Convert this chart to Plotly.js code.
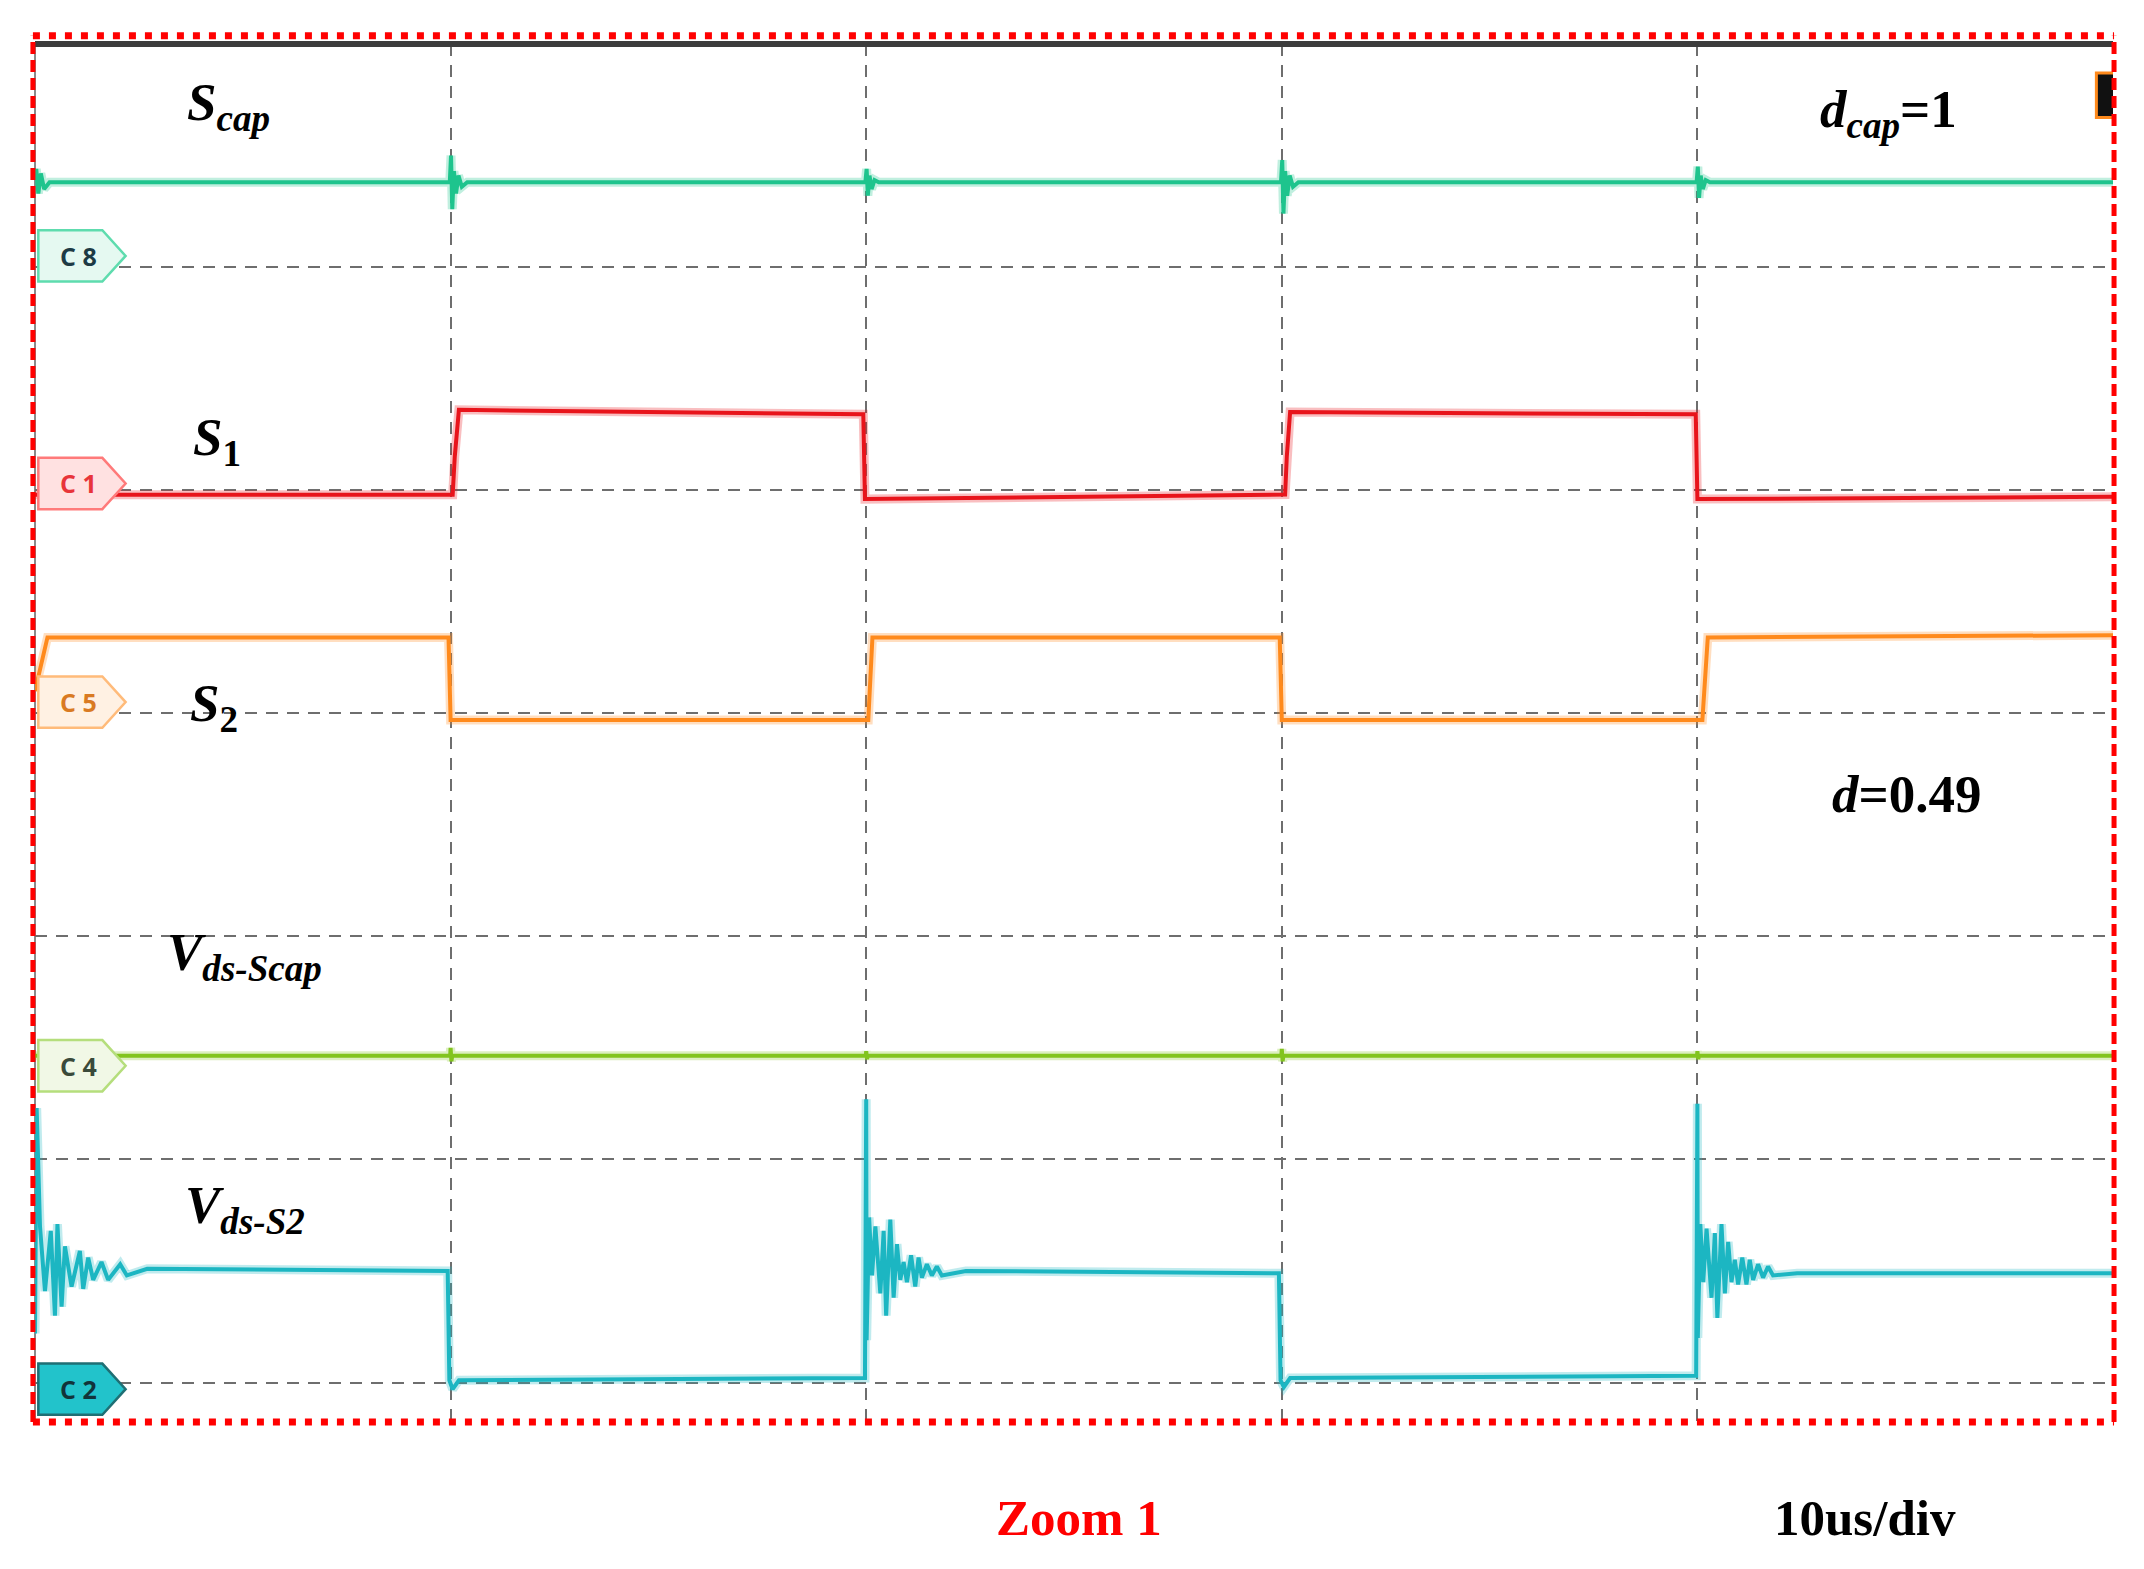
<!DOCTYPE html>
<html>
<head>
<meta charset="utf-8">
<script src="https://cdn.plot.ly/plotly-3.0.1.min.js"></script>
<style>
  html, body { margin: 0; padding: 0; background: #fff; }
  #scope { width: 2144px; height: 1569px; }
</style>
</head>
<body>
<div id="scope"></div>
<script>
// time in us, levels in screen divisions (0 = top of the graticule, negative downwards)

// C8 - Scap gate signal
const scapT = [0, 0.03, 0.08, 0.14, 0.22, 0.35, 9.98, 10.01, 10.04, 10.08, 10.13, 10.19, 10.27, 10.4,
  19.98, 20.01, 20.04, 20.08, 20.13, 20.2, 20.3, 29.98, 30.01, 30.04, 30.08, 30.13, 30.19, 30.27, 30.4,
  39.98, 40.01, 40.04, 40.08, 40.13, 40.2, 40.3, 50];
const scapV = [-0.6, -0.56, -0.67, -0.58, -0.65, -0.62, -0.62, -0.5, -0.74, -0.57, -0.67, -0.59, -0.64, -0.62,
  -0.62, -0.56, -0.68, -0.59, -0.65, -0.61, -0.62, -0.62, -0.52, -0.76, -0.57, -0.68, -0.59, -0.64, -0.62,
  -0.62, -0.55, -0.69, -0.59, -0.65, -0.61, -0.62, -0.62];

// C1 - S1 gate signal
const s1T = [0, 10.05, 10.1, 10.2, 19.93, 19.97, 30.08, 30.12, 30.2, 39.96, 40.0, 50];
const s1V = [-2.02, -2.02, -1.85, -1.64, -1.66, -2.04, -2.02, -1.85, -1.65, -1.66, -2.04, -2.03];

// C5 - S2 gate signal
const s2T = [0, 0.3, 9.95, 10.0, 20.05, 20.15, 29.95, 30.0, 40.12, 40.25, 50];
const s2V = [-2.9, -2.66, -2.66, -3.03, -3.03, -2.66, -2.66, -3.03, -3.03, -2.66, -2.65];

// C4 - Vds of Scap
const vcapT = [0, 9.99, 10.0, 10.02, 10.04, 19.99, 20.0, 20.02, 20.04, 29.99, 30.0, 30.02, 30.04, 39.99, 40.0, 40.02, 40.04, 50];
const vcapV = [-4.535, -4.535, -4.5, -4.56, -4.535, -4.535, -4.515, -4.55, -4.535, -4.535, -4.505, -4.56, -4.535,
  -4.535, -4.515, -4.55, -4.535, -4.535];

// C2 - Vds of S2
const vs2T = [0, 0.04, 0.12, 0.24, 0.38, 0.48, 0.54, 0.64, 0.72, 0.88, 1.08, 1.16, 1.28, 1.4, 1.6, 1.76, 2.05, 2.21, 2.7,
  9.93, 9.97, 10.05, 10.2,
  19.97, 20.0, 20.01, 20.07, 20.14, 20.22, 20.34, 20.42, 20.48, 20.58, 20.66, 20.74, 20.82, 20.9, 20.98, 21.08, 21.18, 21.26, 21.34, 21.46, 21.58, 21.7, 21.82, 22.4,
  29.93, 29.97, 30.05, 30.2,
  39.97, 40.0, 40.01, 40.07, 40.14, 40.22, 40.34, 40.42, 40.48, 40.58, 40.66, 40.74, 40.82, 40.9, 40.98, 41.08, 41.18, 41.26, 41.34, 41.46, 41.58, 41.7, 41.82, 42.4, 50];
const vs2V = [-5.78, -4.77, -5.3, -5.59, -5.32, -5.7, -5.29, -5.66, -5.39, -5.57, -5.41, -5.58, -5.44, -5.54, -5.46, -5.54, -5.47, -5.52, -5.49,
  -5.5, -5.99, -6.03, -5.99,
  -5.98, -4.73, -5.81, -5.26, -5.52, -5.3, -5.6, -5.32, -5.7, -5.27, -5.62, -5.38, -5.54, -5.46, -5.55, -5.43, -5.57, -5.44, -5.53, -5.47, -5.52, -5.48, -5.52, -5.5,
  -5.51, -5.99, -6.02, -5.98,
  -5.97, -4.75, -5.8, -5.29, -5.55, -5.31, -5.62, -5.33, -5.71, -5.29, -5.6, -5.37, -5.55, -5.45, -5.56, -5.44, -5.56, -5.45, -5.54, -5.47, -5.53, -5.48, -5.52, -5.51, -5.51];

// channel badges
const chNames = ['C8', 'C1', 'C5', 'C4', 'C2'];
const chLevels = [-0.95, -1.97, -2.95, -4.58, -6.03];
const chFill = ['#e5f9f1', '#ffe1e1', '#fff1e3', '#f1f8e6', '#22c3cb'];
const chEdge = ['#5edcae', '#ff7a7a', '#ffbb7a', '#b5de7c', '#1f6f74'];
const chText = ['#1d3b45', '#e8343a', '#d97a22', '#3a4a3a', '#12343a'];

const traceColors = ['#1ec48d', '#e8141b', '#ff8a1c', '#82c41e', '#1cb6c2'];

// labels drawn on the screen
const labelText = [
  '<b><i>S</i></b><sub><b><i>cap</i></b></sub>',
  '<b><i>d</i></b><sub><b><i>cap</i></b></sub><b>=1</b>',
  '<b><i>S</i></b><sub><b>1</b></sub>',
  '<b><i>S</i></b><sub><b>2</b></sub>',
  '<b><i>d</i>=0.49</b>',
  '<b><i>V</i></b><sub><b><i>ds-Scap</i></b></sub>',
  '<b><i>V</i></b><sub><b><i>ds-S2</i></b></sub>'
];
const labelX = [4.65, 44.6, 4.38, 4.3, 45.02, 5.05, 5.05];
const labelY = [-0.28, -0.31, -1.78, -2.97, -3.36, -4.09, -5.22];

var series = [[scapT, scapV], [s1T, s1V], [s2T, s2V], [vcapT, vcapV], [vs2T, vs2V]];
var data = [];
// soft halo under each trace, like the phosphor blur of the scope
series.forEach(function(s, i) {
  data.push({
    x: s[0], y: s[1], type: 'scatter', mode: 'lines', opacity: 0.28,
    line: {color: traceColors[i], width: 9},
    hoverinfo: 'skip', showlegend: false
  });
});
series.forEach(function(s, i) {
  data.push({
    x: s[0], y: s[1], type: 'scatter', mode: 'lines',
    line: {color: traceColors[i], width: 4},
    hoverinfo: 'skip', showlegend: false
  });
});

var serif = 'Liberation Serif, Times New Roman, serif';

var annotations = labelText.map(function(t, i) {
  return {
    text: t, x: labelX[i], y: labelY[i], xref: 'x', yref: 'y',
    showarrow: false, xanchor: 'center', yanchor: 'middle',
    font: {family: serif, size: 53, color: '#000'}
  };
});
annotations.push({
  text: '<b>Zoom 1</b>', x: 25.12, y: -0.07, xref: 'x', yref: 'paper',
  showarrow: false, xanchor: 'center', yanchor: 'middle',
  font: {family: serif, size: 51, color: '#ff0000'}
});
annotations.push({
  text: '<b>10us/div</b>', x: 44.03, y: -0.07, xref: 'x', yref: 'paper',
  showarrow: false, xanchor: 'center', yanchor: 'middle',
  font: {family: serif, size: 51, color: '#000'}
});

var shapes = [];
// badges: pentagon pointing right at each channel reference level
chLevels.forEach(function(lv, i) {
  var x0 = 0.08, x1 = 1.62, x2 = 2.18, h = 0.115;
  shapes.push({
    type: 'path', xref: 'x', yref: 'y', layer: 'above',
    path: 'M' + x0 + ',' + (lv + h) + ' L' + x1 + ',' + (lv + h) + ' L' + x2 + ',' + lv +
          ' L' + x1 + ',' + (lv - h) + ' L' + x0 + ',' + (lv - h) + ' Z',
    fillcolor: chFill[i], line: {color: chEdge[i], width: 2.5}
  });
  annotations.push({
    text: '<b>' + chNames[i].split('').join(' ') + '</b>', x: 1.05, y: lv, xref: 'x', yref: 'y',
    showarrow: false, xanchor: 'center', yanchor: 'middle',
    font: {family: 'Open Sans, sans-serif', size: 25, color: chText[i]}
  });
});

// trigger marker top right
shapes.push({type: 'rect', xref: 'x', yref: 'y', layer: 'above', x0: 49.6, x1: 50.2, y0: -0.13, y1: -0.33,
  fillcolor: '#111', line: {color: '#ff8a1c', width: 3}});

// graticule frame
shapes.push({type: 'line', xref: 'paper', yref: 'paper', x0: 0, x1: 1, y0: 1, y1: 1, layer: 'above',
  line: {color: '#3c3c3c', width: 6}});
shapes.push({type: 'line', xref: 'paper', yref: 'paper', x0: 0, x1: 0, y0: 0, y1: 1, layer: 'below',
  line: {color: '#8a8a8a', width: 2}});

// red dashed zoom box
var red = '#ff0000';
shapes.push({type: 'line', xref: 'paper', yref: 'paper', x0: -0.001, x1: 1.0005, y0: 1.006, y1: 1.006,
  line: {color: red, width: 7, dash: '7px,9px'}});
shapes.push({type: 'line', xref: 'paper', yref: 'paper', x0: -0.001, x1: 1.0005, y0: 0, y1: 0,
  line: {color: red, width: 7, dash: '7px,9px'}});
shapes.push({type: 'line', xref: 'paper', yref: 'paper', x0: -0.001, x1: -0.001, y0: 0, y1: 1.006,
  line: {color: red, width: 5, dash: '12px,6px'}});
shapes.push({type: 'line', xref: 'paper', yref: 'paper', x0: 1.0005, x1: 1.0005, y0: 0, y1: 1.006,
  line: {color: red, width: 5, dash: '12px,6px'}});

var layout = {
  width: 2144,
  height: 1569,
  margin: {l: 35, r: 31, t: 44, b: 147},
  paper_bgcolor: '#ffffff',
  plot_bgcolor: '#ffffff',
  showlegend: false,
  xaxis: {
    range: [0, 50], tick0: 0, dtick: 10, showticklabels: false, ticks: '',
    showgrid: true, gridcolor: '#6e6e6e', gridwidth: 2, griddash: '12px,9px',
    zeroline: false, showline: false, fixedrange: true
  },
  yaxis: {
    range: [-6.177, 0], tick0: 0, dtick: 1, showticklabels: false, ticks: '',
    showgrid: true, gridcolor: '#6e6e6e', gridwidth: 2, griddash: '12px,9px',
    zeroline: false, showline: false, fixedrange: true
  },
  annotations: annotations,
  shapes: shapes
};

Plotly.newPlot('scope', data, layout, {staticPlot: true, displayModeBar: false});
</script>
</body>
</html>
